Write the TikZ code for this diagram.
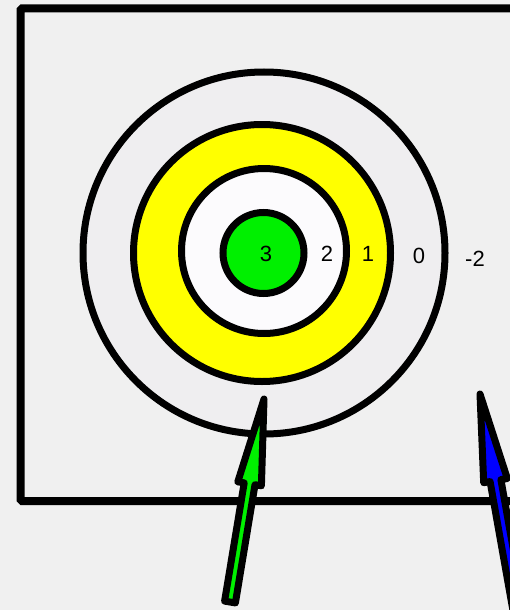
\documentclass[tikz,border=0pt]{standalone}
\usepackage{fontspec}
\setmainfont{Liberation Sans}
\definecolor{bg}{HTML}{F0F0F0}
\definecolor{ringgray}{HTML}{EFEEF0}
\definecolor{ringwhite}{HTML}{FCFBFD}
\definecolor{ringyellow}{HTML}{FFFF00}
\definecolor{ringgreen}{HTML}{00F000}
\definecolor{arrowblue}{HTML}{0000FF}
\begin{document}
\begin{tikzpicture}[x=1pt,y=-1pt,
  ring/.style={circle,draw=black,line width=7pt,inner sep=0pt},
  score/.style={font=\fontsize{22}{24}\selectfont,inner sep=0pt},
  arrowshape/.style={draw=black,line width=7pt,line join=round}]
\useasboundingbox (0,0) rectangle (510,610);
\fill[bg] (0,0) rectangle (510,610);
\draw[line width=8pt,rounded corners=1.5pt] (20.5,8.5) rectangle (525,501);
\node[ring,fill=ringgray,minimum size=362pt] (outer) at (264,253) {};
\node[ring,fill=ringyellow,minimum size=257pt] (yellow) at (262,253) {};
\node[ring,fill=ringwhite,minimum size=165pt] (white) at (264,251) {};
\node[ring,fill=ringgreen,minimum size=81pt] (bull) at (263.5,253) {};
\node[score] (s3) at (266,254) {3};
\node[score] (s2) at (327,254) {2};
\node[score] (s1) at (368,254) {1};
\node[score] (s0) at (419,256) {0};
\node[score] (sm2) at (475,259) {-2};
% green arrow
\coordinate (gtip) at (264,399);
\filldraw[arrowshape,fill=ringgreen] (gtip) -- (261.4,485.8) -- (255.0,484.7) -- (235.4,602.9)
  -- (224.6,601.1) -- (244.2,482.9) -- (237.8,481.8) -- cycle;
% blue arrow
\coordinate (btip) at (480,394);
\filldraw[arrowshape,fill=arrowblue] (btip) -- (507.3,478.5) -- (500.9,479.6) -- (527.4,629.0)
  -- (516.6,631.0) -- (490.1,481.6) -- (483.7,482.7) -- cycle;
\end{tikzpicture}
\end{document}
